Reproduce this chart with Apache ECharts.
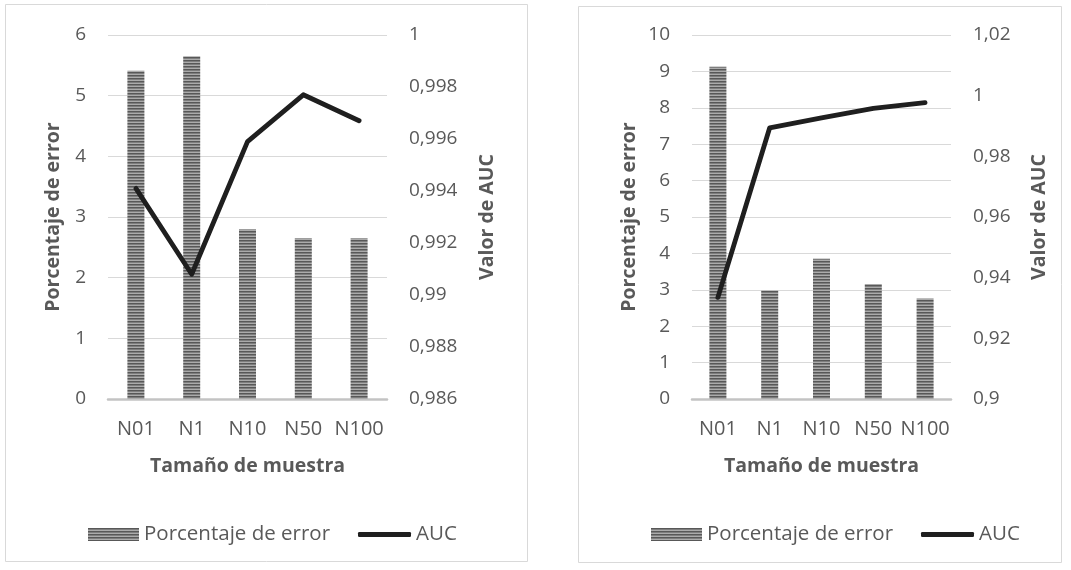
<!DOCTYPE html>
<html>
<head>
<meta charset="utf-8">
<title>Porcentaje de error y AUC según tamaño de muestra</title>
<script src="https://cdn.jsdelivr.net/npm/echarts@6/dist/echarts.min.js"></script>
<style>
  html, body { margin: 0; padding: 0; background: #ffffff; }
  #chart { width: 1071px; height: 570px; }
</style>
</head>
<body>
<div id="chart"></div>
<script>
// Sample-size categories shared by both panels
const categories = ['N01', 'N1', 'N10', 'N50', 'N100'];

// Left panel
const errorLeft = [5.41, 5.65, 2.80, 2.65, 2.65];
const aucLeft = [0.9941, 0.9908, 0.9959, 0.9977, 0.9967];

// Right panel
const errorRight = [9.13, 2.98, 3.85, 3.16, 2.76];
const aucRight = [0.9335, 0.9894, 0.9927, 0.9958, 0.9977];

const FONT = '"Open Sans", "Noto Sans", sans-serif';
const TEXT = '#595959';
const GRIDLINE = '#d9d9d9';

// Horizontal-stripe fill used for the error bars
function stripePattern() {
  const c = document.createElement('canvas');
  c.width = 4; c.height = 3;
  const g = c.getContext('2d');
  const rows = ['#585858', '#7e7e7e', '#ababab'];
  rows.forEach((col, i) => { g.fillStyle = col; g.fillRect(0, i, 4, 1); });
  return { image: c, repeat: 'repeat' };
}
const stripes = stripePattern();

const commaFmt = v => String(+(+v).toFixed(4)).replace('.', ',');

function xAxis(gridIndex) {
  return {
    type: 'category', gridIndex, data: categories,
    axisLine: { lineStyle: { color: '#c3c3c3', width: 2.5 } },
    axisTick: { show: false },
    axisLabel: { interval: 0, margin: 20, fontSize: 20, color: TEXT, fontFamily: FONT },
    name: 'Tamaño de muestra', nameLocation: 'middle', nameGap: 57,
    nameTextStyle: { fontSize: 19.5, fontWeight: 'bold', color: TEXT, fontFamily: FONT }
  };
}

function leftAxis(gridIndex, max, nameGap) {
  return {
    type: 'value', gridIndex, position: 'left', min: 0, max, interval: 1,
    axisLine: { show: false }, axisTick: { show: false },
    axisLabel: { margin: 22, fontSize: 19, color: TEXT, fontFamily: FONT },
    splitLine: { lineStyle: { color: GRIDLINE, width: 1 } },
    name: 'Porcentaje de error', nameLocation: 'middle', nameRotate: 90, nameGap,
    nameTextStyle: { fontSize: 19.5, fontWeight: 'bold', color: TEXT, fontFamily: FONT }
  };
}

function rightAxis(gridIndex, min, max, interval, nameGap) {
  return {
    type: 'value', gridIndex, position: 'right', min, max, interval,
    axisLine: { show: false }, axisTick: { show: false },
    axisLabel: { margin: 22, fontSize: 19, color: TEXT, fontFamily: FONT, formatter: commaFmt },
    splitLine: { show: false },
    name: 'Valor de AUC', nameLocation: 'middle', nameRotate: 90, nameGap,
    nameTextStyle: { fontSize: 19.5, fontWeight: 'bold', color: TEXT, fontFamily: FONT }
  };
}

function barSeries(idx, data) {
  return {
    name: 'Porcentaje de error', type: 'bar', xAxisIndex: idx, yAxisIndex: idx * 2,
    data, barWidth: 17, itemStyle: { color: stripes }, silent: true
  };
}

function lineSeries(idx, data) {
  return {
    name: 'AUC', type: 'line', xAxisIndex: idx, yAxisIndex: idx * 2 + 1,
    data, symbol: 'none', smooth: false, silent: true,
    itemStyle: { color: '#1f1f1f' },
    lineStyle: { color: '#1f1f1f', width: 4.8, join: 'round', cap: 'round' }
  };
}

function legendPair(barLeft, lineLeft) {
  const text = { fontSize: 20.5, color: TEXT, fontFamily: FONT };
  return [
    { data: [{ name: 'Porcentaje de error', icon: 'rect' }], left: barLeft, top: 524, padding: 0,
      itemWidth: 51, itemHeight: 13, textStyle: text, selectedMode: false },
    { data: [{ name: 'AUC', icon: 'roundRect' }], left: lineLeft, top: 524, padding: 0,
      itemWidth: 53, itemHeight: 5, textStyle: text, selectedMode: false }
  ];
}

const chart = echarts.init(document.getElementById('chart'), null, { renderer: 'canvas' });

chart.setOption({
  backgroundColor: '#ffffff',
  animation: false,
  graphic: [
    { type: 'rect', silent: true, shape: { x: 5.5, y: 4.5, width: 522, height: 557 },
      style: { fill: 'none', stroke: '#d9d9d9', lineWidth: 1 } },
    { type: 'rect', silent: true, shape: { x: 578.5, y: 6.5, width: 483, height: 556 },
      style: { fill: 'none', stroke: '#d9d9d9', lineWidth: 1 } }
  ],
  grid: [
    { left: 108, top: 35, width: 279, height: 364 },
    { left: 692, top: 35, width: 259, height: 364 }
  ],
  xAxis: [xAxis(0), xAxis(1)],
  yAxis: [
    leftAxis(0, 6, 45),
    rightAxis(0, 0.986, 1, 0.002, 90),
    leftAxis(1, 10, 53),
    rightAxis(1, 0.9, 1.02, 0.02, 78)
  ],
  legend: [...legendPair(88, 358), ...legendPair(651, 921)],
  series: [
    barSeries(0, errorLeft),
    lineSeries(0, aucLeft),
    barSeries(1, errorRight),
    lineSeries(1, aucRight)
  ]
});
</script>
</body>
</html>
